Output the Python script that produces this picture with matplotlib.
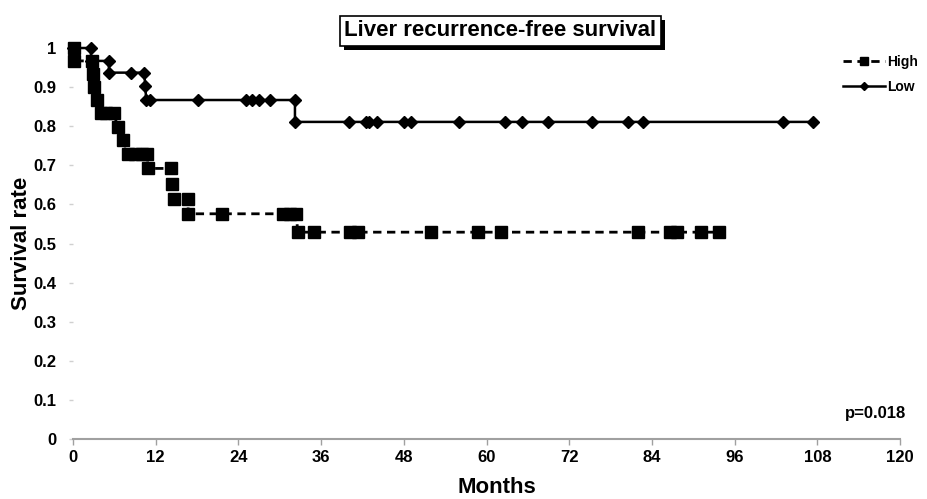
import matplotlib.pyplot as plt
import matplotlib.patheffects as pe

plt.rcParams['font.family'] = ['Liberation Sans', 'DejaVu Sans']
plt.rcParams['font.weight'] = 'bold'

# High group (squares, dashed)
high_months = [0.2, 0.2, 2.8, 2.9, 3.0, 3.5, 4.0, 4.8, 5.9, 6.5, 7.3, 8.0, 9.0, 10.0,
               10.7, 10.9, 14.2, 14.4, 14.6, 16.7, 16.7, 21.6, 30.5, 31.5, 32.4, 32.6,
               34.9, 40.2, 41.4, 51.9, 58.8, 62.1, 82.0, 86.6, 87.7, 91.1, 93.8]
high_surv = [1.0, 0.967, 0.967, 0.933, 0.900, 0.867, 0.833, 0.833, 0.833, 0.798, 0.764,
             0.730, 0.730, 0.730, 0.730, 0.692, 0.692, 0.653, 0.615, 0.615, 0.576, 0.576,
             0.576, 0.576, 0.576, 0.529, 0.529, 0.529, 0.529, 0.529, 0.529, 0.529, 0.529,
             0.529, 0.529, 0.529, 0.529]

# Low group (diamonds, solid)
low_months = [0, 2.6, 2.6, 5.2, 5.2, 8.4, 10.3, 10.5, 10.6, 11.1, 18.2, 25.1, 25.9, 27.0,
              28.6, 32.2, 32.2, 40.1, 42.5, 42.9, 44.1, 48.0, 49.0, 56.0, 62.7, 65.2,
              68.9, 75.3, 80.5, 82.7, 103.0, 107.3]
low_surv = [1.0, 1.0, 0.967, 0.967, 0.937, 0.937, 0.937, 0.903, 0.867, 0.867, 0.867,
            0.867, 0.867, 0.867, 0.867, 0.867, 0.811, 0.811, 0.811, 0.811, 0.811, 0.811,
            0.811, 0.811, 0.811, 0.811, 0.811, 0.811, 0.811, 0.811, 0.811, 0.811]

x_ticks = list(range(0, 121, 12))
y_ticks = [0, 0.1, 0.2, 0.3, 0.4, 0.5, 0.6, 0.7, 0.8, 0.9, 1]
y_labels = ['0', '0.1', '0.2', '0.3', '0.4', '0.5', '0.6', '0.7', '0.8', '0.9', '1']

fig = plt.figure(figsize=(9.28, 4.99), dpi=100)
ax = fig.add_axes([0.0787, 0.1202, 0.8912, 0.7836])

ax.plot(high_months, high_surv, color='black', linestyle=(0, (3, 2)), linewidth=2,
        marker='s', markersize=8.5, label='High', zorder=3, clip_on=False)
ax.plot(low_months, low_surv, color='black', linestyle='-', linewidth=1.8,
        marker='D', markersize=6.3, label='Low', zorder=4, clip_on=False)

ax.set_xlim(0, 120)
ax.set_ylim(0, 1)
ax.set_xticks(x_ticks)
ax.set_yticks(y_ticks)
ax.set_yticklabels(y_labels)

for s in ['top', 'right', 'left']:
    ax.spines[s].set_visible(False)
ax.spines['bottom'].set_color('#a0a0a0')
ax.spines['bottom'].set_linewidth(1.5)
ax.tick_params(axis='x', direction='out', length=4, width=1, color='#a0a0a0',
               labelsize=12, pad=4)
ax.tick_params(axis='y', direction='out', length=3, width=1, color='#d0d0d0',
               labelsize=12, pad=9)

ax.set_xlabel('Months', fontsize=16, fontweight='bold', va='center')
ax.xaxis.set_label_coords(0.513, -0.125)
ax.set_ylabel('Survival rate', fontsize=16, fontweight='bold', va='center')
ax.yaxis.set_label_coords(-0.062, 0.5)

t = fig.text(0.539, 0.938, 'Liver recurrence-free survival', ha='center', va='center',
             fontsize=16, fontweight='bold',
             bbox=dict(boxstyle='square,pad=0.2', facecolor='white', edgecolor='black',
                       linewidth=1.2))
t.get_bbox_patch().set_path_effects([
    pe.withSimplePatchShadow(offset=(3, -3), shadow_rgbFace='black', alpha=1)])

ax.text(0.97, 0.066, 'p=0.018', transform=ax.transAxes, ha='center',
        va='center', fontsize=12, fontweight='bold')

fig.legend(loc='upper left', bbox_to_anchor=(0.895, 0.915), frameon=False,
           handlelength=3.0, handletextpad=0.15, markerscale=0.7,
           labelspacing=0.8, prop={'weight': 'bold', 'size': 10})

fig.savefig('out.png', dpi=100)
